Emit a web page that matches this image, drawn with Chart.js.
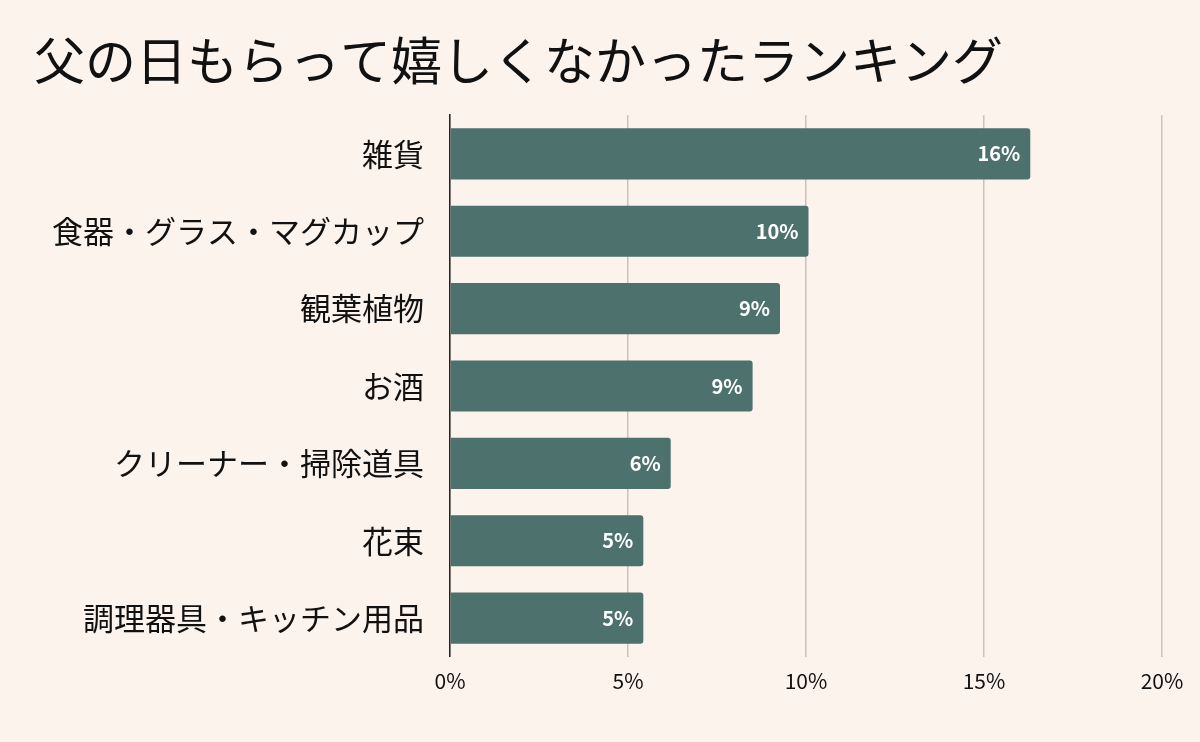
<!DOCTYPE html>
<html><head><meta charset="utf-8">
<script src="https://cdn.jsdelivr.net/npm/chart.js@4"></script>
<style>html,body{margin:0;padding:0;background:#fcf3ed;}#w{width:1200px;height:742px;}</style>
</head><body><div id="w"><canvas id="c"></canvas></div>
<script>
const categories=["雑貨","食器・グラス・マグカップ","観葉植物","お酒","クリーナー・掃除道具","花束","調理器具・キッチン用品"];
const values=[16.3,10.07,9.27,8.5,6.2,5.43,5.43];
const valueLabels=["16%","10%","9%","9%","6%","5%","5%"];
const xTicks=["0%","5%","10%","15%","20%"];
const font="'Noto Sans CJK JP','Noto Sans',sans-serif";
const labelPlugin={id:'lbl',afterDatasetsDraw(ch){const ctx=ch.ctx;const m=ch.getDatasetMeta(0);ctx.save();ctx.fillStyle='#fff';ctx.font="bold 20px "+font;ctx.textAlign='right';ctx.textBaseline='middle';m.data.forEach((b,i)=>{ctx.fillText(valueLabels[i],b.x-10,b.y);});ctx.restore();}};
new Chart(document.getElementById('c'),{type:'bar',data:{labels:categories,datasets:[{data:values,backgroundColor:'#4d716d',borderRadius:3,barPercentage:0.66,categoryPercentage:1}]},
options:{indexAxis:'y',responsive:true,maintainAspectRatio:false,animation:false,
layout:{padding:{left:34,right:38,top:0,bottom:36}},
plugins:{legend:{display:false},tooltip:{enabled:false},title:{display:true,text:'父の日もらって嬉しくなかったランキング',align:'start',color:'#111',font:{family:font,size:51,weight:'normal'},padding:{top:30,bottom:24}}},
scales:{x:{min:0,max:20,ticks:{stepSize:5,color:'#111',font:{family:font,size:21},callback:(v,i)=>xTicks[i],padding:12},grid:{color:'#c9c2bd',lineWidth:1.5,drawTicks:false},border:{display:false}},
y:{ticks:{color:'#111',font:{family:font,size:31},padding:18},grid:{display:false},border:{color:'#222',width:1.5}}}},
plugins:[labelPlugin]});
</script></body></html>
